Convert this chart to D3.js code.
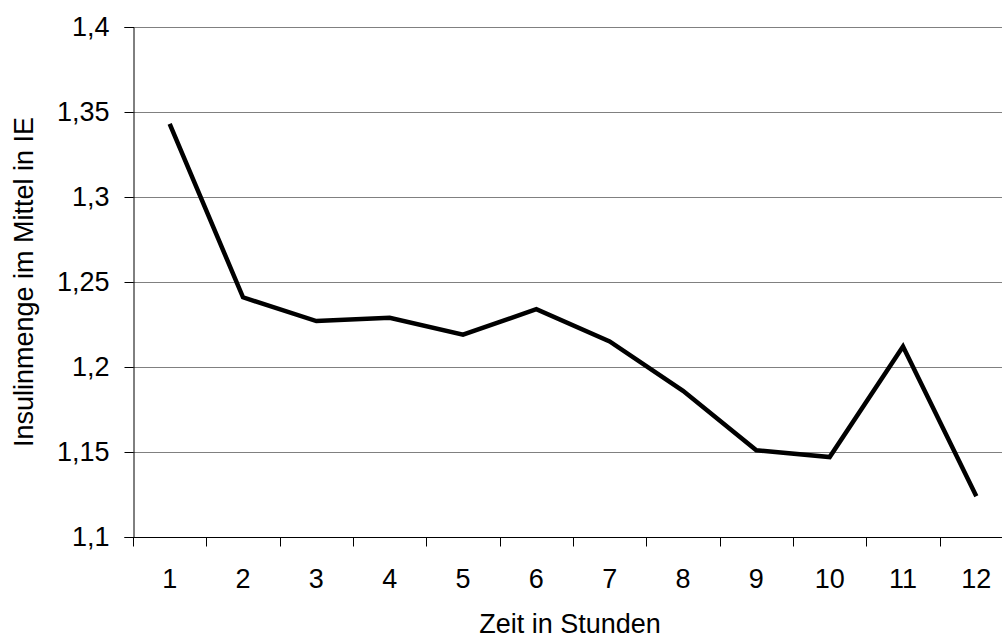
<!DOCTYPE html>
<html>
<head>
<meta charset="utf-8">
<script src="https://cdn.jsdelivr.net/npm/d3@7"></script>
<style>
  body { margin: 0; background: #fff; }
  svg text { font-family: "Liberation Sans", Arial, sans-serif; fill: #000; }
</style>
</head>
<body>
<div id="chart"></div>
<script>
const hours = ['1', '2', '3', '4', '5', '6', '7', '8', '9', '10', '11', '12'];
const insulin = [1.343, 1.241, 1.227, 1.229, 1.219, 1.234, 1.215, 1.186, 1.151, 1.147, 1.212, 1.124];
const yTicks = [1.1, 1.15, 1.2, 1.25, 1.3, 1.35, 1.4];

const W = 1002, H = 640;
const PLOT = {left: 133, top: 27, right: 1013, bottom: 537};
const FONT = '27px';

const svg = d3.select('#chart')
  .append('svg')
  .attr('width', W)
  .attr('height', H);

const x = d3.scaleBand()
  .domain(hours)
  .range([PLOT.left, PLOT.right]);

const y = d3.scaleLinear()
  .domain([1.1, 1.4])
  .range([PLOT.bottom, PLOT.top]);

const fmt = v => String(+v.toFixed(2)).replace('.', ',');

// gridlines
svg.append('g')
  .selectAll('line')
  .data(yTicks.filter(v => v > 1.1))
  .join('line')
  .attr('x1', PLOT.left)
  .attr('x2', PLOT.right)
  .attr('y1', d => Math.round(y(d)) + 0.5)
  .attr('y2', d => Math.round(y(d)) + 0.5)
  .attr('stroke', '#808080')
  .attr('stroke-width', 1);

// y axis
const yAxis = svg.append('g')
  .attr('transform', `translate(${PLOT.left + 0.5},0)`)
  .call(d3.axisLeft(y).tickValues(yTicks).tickFormat(fmt).tickSize(9).tickPadding(15));
yAxis.select('.domain').attr('stroke', '#000');
yAxis.selectAll('.tick line').attr('stroke', '#000');
yAxis.selectAll('text').style('font-size', FONT);

// x axis, ticks between categories
const xAxisG = svg.append('g')
  .attr('transform', `translate(0,${PLOT.bottom + 0.5})`);
xAxisG.append('line')
  .attr('x1', PLOT.left)
  .attr('x2', PLOT.right)
  .attr('stroke', '#000');
xAxisG.selectAll('.sep')
  .data(hours)
  .join('line')
  .attr('class', 'sep')
  .attr('x1', d => Math.round(x(d)) + 0.5)
  .attr('x2', d => Math.round(x(d)) + 0.5)
  .attr('y1', 0)
  .attr('y2', 9)
  .attr('stroke', '#000');
xAxisG.selectAll('.lbl')
  .data(hours)
  .join('text')
  .attr('class', 'lbl')
  .attr('x', d => x(d) + x.bandwidth() / 2)
  .attr('y', 50)
  .attr('text-anchor', 'middle')
  .style('font-size', FONT)
  .text(d => d);

// line
const line = d3.line()
  .x((d, i) => x(hours[i]) + x.bandwidth() / 2)
  .y(d => y(d));

svg.append('path')
  .datum(insulin)
  .attr('fill', 'none')
  .attr('stroke', '#000')
  .attr('stroke-width', 4.5)
  .attr('stroke-linejoin', 'miter')
  .attr('d', line);

// axis titles
svg.append('text')
  .attr('x', 570)
  .attr('y', 633)
  .attr('text-anchor', 'middle')
  .style('font-size', FONT)
  .text('Zeit in Stunden');

svg.append('text')
  .attr('transform', `translate(33,${(PLOT.top + PLOT.bottom) / 2}) rotate(-90)`)
  .attr('text-anchor', 'middle')
  .style('font-size', FONT)
  .text('Insulinmenge im Mittel in IE');
</script>
</body>
</html>
